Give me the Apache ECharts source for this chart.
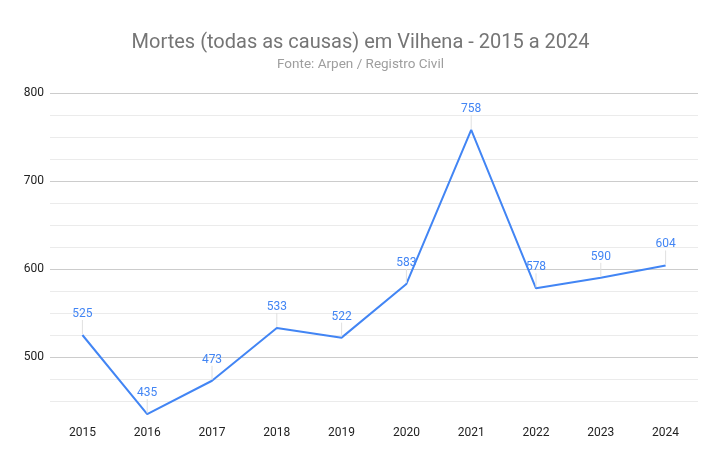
<!DOCTYPE html>
<html>
<head>
<meta charset="utf-8">
<script src="https://cdn.jsdelivr.net/npm/echarts@6/dist/echarts.min.js"></script>
<style>
  html, body { margin: 0; padding: 0; background: #fff; }
  #chart { width: 721px; height: 462px; }
</style>
</head>
<body>
<div id="chart"></div>
<script>
const anos = ['2015', '2016', '2017', '2018', '2019', '2020', '2021', '2022', '2023', '2024'];
const mortes = [525, 435, 473, 533, 522, 583, 758, 578, 590, 604];

const corLinha = '#4285f4';
const gradeForte = '#cccccc';
const gradeFraca = '#ebebeb';

// uma cor por linha de grade: 425 (nenhuma), 450, 475, 500 ... 800
const coresGrade = [];
for (let v = 425; v <= 800; v += 25) {
  if (v === 425) coresGrade.push('rgba(0,0,0,0)');
  else coresGrade.push(v % 100 === 0 ? gradeForte : gradeFraca);
}

const chart = echarts.init(document.getElementById('chart'));

const option = {
  animation: false,
  textStyle: { fontFamily: 'Roboto, Arial, sans-serif' },
  title: {
    text: 'Mortes (todas as causas) em Vilhena - 2015 a 2024',
    subtext: 'Fonte: Arpen / Registro Civil',
    left: 'center',
    top: 28,
    itemGap: 5,
    textStyle: { fontSize: 20, fontWeight: 'normal', color: '#757575' },
    subtextStyle: { fontSize: 13.5, color: '#9e9e9e' }
  },
  grid: { left: 50, right: 23, top: 93, bottom: 39 },
  xAxis: {
    type: 'category',
    data: anos,
    boundaryGap: true,
    axisLine: { show: false },
    axisTick: { show: false },
    axisLabel: { color: '#222', fontSize: 12, margin: 4 }
  },
  yAxis: {
    type: 'value',
    min: 425,
    max: 800,
    interval: 25,
    axisLine: { show: false },
    axisTick: { show: false },
    axisLabel: {
      color: '#222',
      fontSize: 12,
      margin: 6,
      formatter: v => (v % 100 === 0 ? String(v) : '')
    },
    splitLine: { lineStyle: { color: coresGrade, width: 1 } }
  },
  series: [
    {
      type: 'line',
      data: mortes,
      symbol: 'circle',
      symbolSize: 2,
      lineStyle: { color: corLinha, width: 2 },
      itemStyle: { color: 'rgba(0,0,0,0)' },
      label: {
        show: true,
        position: 'top',
        distance: 2,
        color: corLinha,
        fontSize: 12
      },
      labelLayout: { dy: -12 },
      labelLine: {
        show: true,
        lineStyle: { color: '#e0e0e0', width: 1 }
      }
    }
  ]
};

chart.setOption(option);

window.addEventListener('resize', function () {
  chart.resize();
});
</script>
</body>
</html>
